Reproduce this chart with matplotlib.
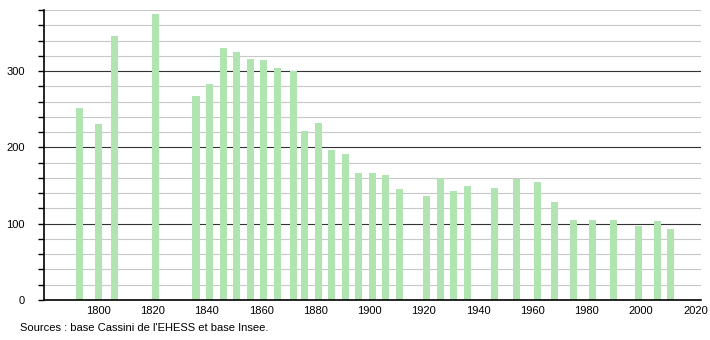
import matplotlib.pyplot as plt
from matplotlib.ticker import MultipleLocator

plt.rcParams['font.family'] = ['Liberation Sans', 'DejaVu Sans']

years = [1793, 1800, 1806, 1821, 1836, 1841, 1846, 1851, 1856, 1861, 1866,
         1872, 1876, 1881, 1886, 1891, 1896, 1901, 1906, 1911, 1921, 1926,
         1931, 1936, 1946, 1954, 1962, 1968, 1975, 1982, 1990, 1999, 2006,
         2011]
population = [251, 230, 346, 375, 267, 283, 330, 325, 316, 314, 304,
              300, 222, 232, 196, 191, 166, 167, 164, 145, 136, 160,
              143, 150, 147, 158, 155, 128, 105, 105, 105, 97, 103,
              93]
source = "Sources : base Cassini de l'EHESS et base Insee."

fig = plt.figure(figsize=(7.1, 3.4), dpi=100)
ax = fig.add_axes([0.062, 0.1176, 0.925, 0.853])

ax.set_xlim(1780, 2022)
ax.set_ylim(0, 380)

# grid: light every 20, dark every 100
for v in range(20, 381, 20):
    if v % 100 == 0:
        ax.axhline(v, color='#333333', lw=0.8, zorder=1)
    else:
        ax.axhline(v, color='#c8c8c8', lw=0.8, zorder=1)

ax.bar(years, population, width=2.6, color='#b0e4b0', zorder=2)

ax.yaxis.set_major_locator(MultipleLocator(100))
ax.yaxis.set_minor_locator(MultipleLocator(20))
ax.set_xticks(range(1800, 2021, 20))

for s in ['top', 'right']:
    ax.spines[s].set_visible(False)
ax.spines['left'].set_linewidth(1.2)
ax.spines['bottom'].set_linewidth(1.2)

ax.tick_params(axis='y', which='both', direction='out', length=4, width=1, labelsize=8, pad=10)
ax.tick_params(axis='x', length=0, labelsize=8, pad=4)

fig.text(0.028, 0.035, source, fontsize=8, ha='left', va='center')

fig.savefig('out.png', dpi=100)
